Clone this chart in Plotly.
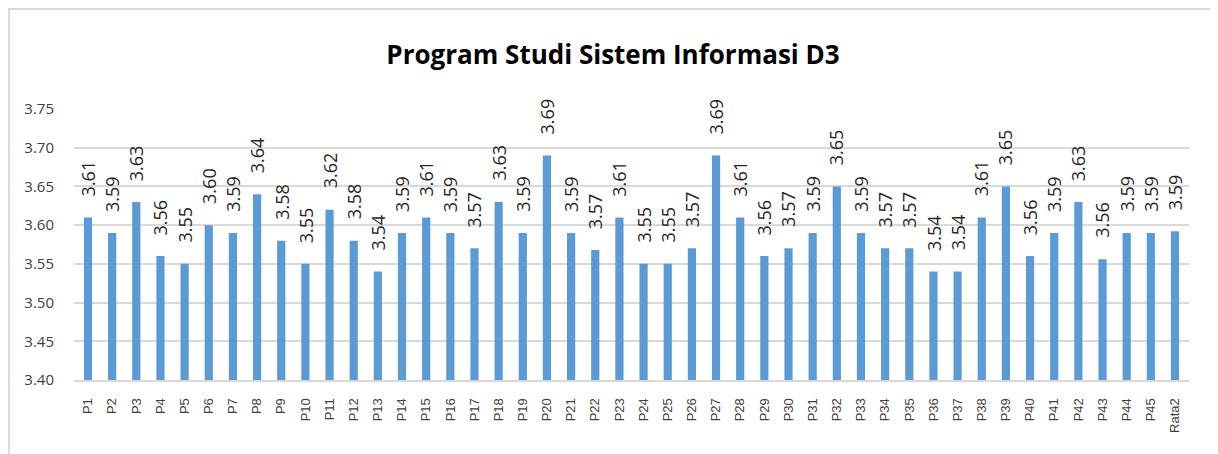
import plotly.graph_objects as go

# data
categories = [f"P{i}" for i in range(1, 46)] + ["Rata2"]
values = [
    3.61, 3.59, 3.63, 3.56, 3.55, 3.60, 3.59, 3.64, 3.58, 3.55,
    3.62, 3.58, 3.54, 3.59, 3.61, 3.59, 3.57, 3.63, 3.59, 3.69,
    3.59, 3.568, 3.61, 3.55, 3.55, 3.57, 3.69, 3.61, 3.56, 3.57,
    3.59, 3.65, 3.59, 3.57, 3.57, 3.54, 3.54, 3.61, 3.65, 3.56,
    3.59, 3.63, 3.556, 3.59, 3.59, 3.592,
]
y_ticks = [3.40, 3.45, 3.50, 3.55, 3.60, 3.65, 3.70, 3.75]
y_floor = 3.40

fig = go.Figure()

# bars start at the axis floor, so heights are offsets from it
fig.add_trace(go.Bar(
    x=categories,
    y=[v - y_floor for v in values],
    base=y_floor,
    marker=dict(color="#5b9bd5", line=dict(width=0)),
    customdata=values,
    hovertemplate="%{x}: %{customdata:.2f}<extra></extra>",
))

# rotated data labels above each bar
for c, v in zip(categories, values):
    fig.add_annotation(
        x=c, y=v, text=f"{v:.2f}",
        textangle=-90, showarrow=False,
        yanchor="bottom", yshift=19,
        font=dict(family="Open Sans", size=18, color="#262626"),
    )

# the page has an 8px body margin, so the figure is sized to fit the window
W, H = 1210, 446
L, R, T, B = 66, 29, 101, 74
pw, ph = W - L - R, H - T - B

# light grey chart frame (bottom edge runs off the page like the reference)
fig.add_shape(
    type="rect", xref="paper", yref="paper",
    x0=(1 - L) / pw, x1=(W - 3 - L) / pw,
    y0=(H - B - 470) / ph, y1=(H - B - 1) / ph,
    line=dict(color="#d9d9d9", width=2), layer="below",
)

fig.update_layout(
    width=W, height=H,
    margin=dict(l=L, r=R, t=T, b=B),
    paper_bgcolor="white", plot_bgcolor="white",
    bargap=0.66,
    showlegend=False,
    title=dict(
        text="<b>Program Studi Sistem Informasi D3</b>",
        x=0.5, xanchor="center", y=0.895, yanchor="middle",
        font=dict(family="Open Sans", size=26, color="#000000"),
    ),
    xaxis=dict(
        tickangle=-90,
        tickfont=dict(family="Liberation Sans", size=13, color="#404040"),
        showgrid=False, showline=True, linecolor="#d9d9d9", linewidth=2,
        ticks="outside", ticklen=11, tickcolor="rgba(0,0,0,0)",
    ),
    yaxis=dict(
        range=[y_floor, 3.75],
        tickvals=y_ticks,
        ticktext=[f"{t:.2f}" for t in y_ticks],
        tickfont=dict(family="Open Sans", size=15, color="#404040"),
        showgrid=True, gridcolor="#d9d9d9", gridwidth=2,
        zeroline=False,
        ticks="outside", ticklen=16, tickcolor="rgba(0,0,0,0)",
    ),
)

fig.write_html("out.html")
